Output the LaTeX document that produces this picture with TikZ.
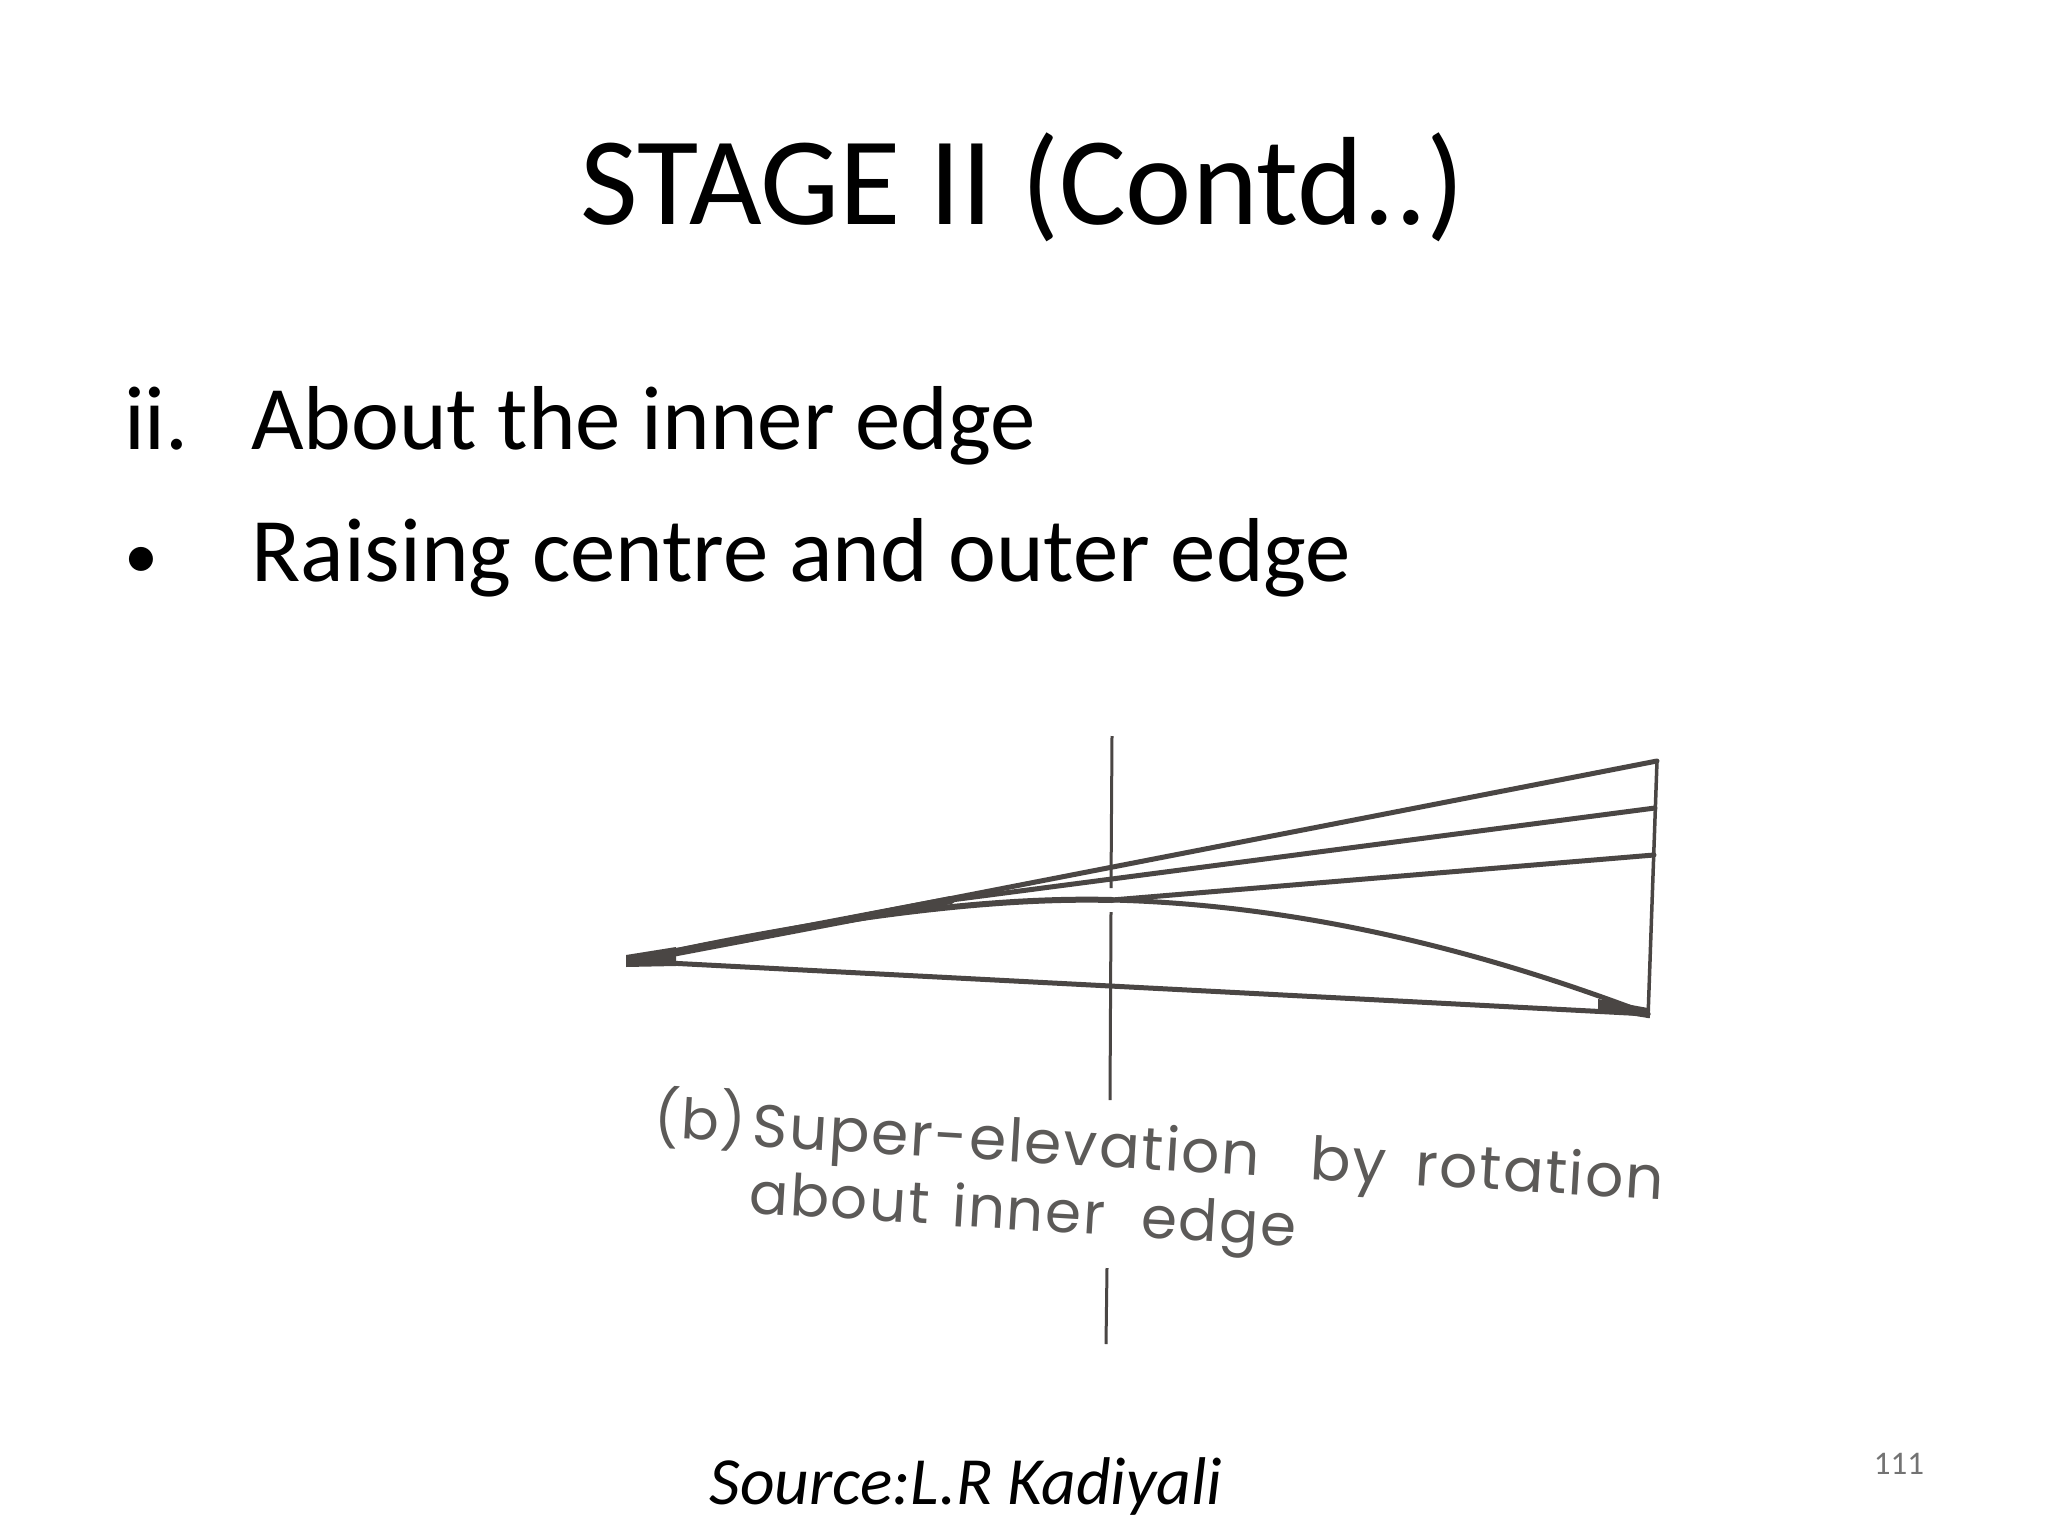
\documentclass[tikz,border=0pt]{standalone}
\usepackage{fontspec}
\setmainfont{Carlito}
\newfontfamily\scanfont[LetterSpace=3]{Poppins}
\definecolor{ink}{HTML}{4A4644}
\definecolor{scanink}{HTML}{5C5A58}
\tikzset{lineink/.style={draw=ink,line width=5pt,line cap=round,line join=round},
 thinink/.style={draw=ink,line width=3pt},
 scan/.style={text=scanink,font=\fontsize{60}{60}\selectfont\scanfont,inner sep=0pt,anchor=base west,rotate=-3.4},
 scantwo/.style={scan,font=\fontsize{58}{58}\selectfont\scanfont},
 bodytext/.style={font=\fontsize{90.8}{91}\selectfont,inner sep=0pt,anchor=base west}}
\begin{document}
\begin{tikzpicture}[x=1pt,y=-1pt]
\useasboundingbox (0,0) rectangle (2048,1536);
\fill[white] (0,0) rectangle (2048,1536);
\node[font=\fontsize{125.5}{126}\selectfont,inner sep=0pt] (title) at (1023,187) {STAGE II (Contd..)};
\node[bodytext] (l1a) at (124,449) {ii.};
\node[bodytext] (l1b) at (251,449) {About the inner edge};
\node[bodytext,font=\fontsize{68}{68}\selectfont] (l2a) at (124,578) {•};
\node[bodytext] (l2b) at (251,581) {Raising centre and outer edge};
\coordinate (apex) at (630,961);
\coordinate (c) at (1112,900);
\coordinate (m) at (951,900);
\coordinate (t1) at (1657,761);
\coordinate (t2) at (1655,808);
\coordinate (t3) at (1654,855);
\coordinate (b) at (1648,1014);
\draw[thinink] (1112,736) -- (1111,888);
\draw[thinink] (1111,912) -- (1110,1100);
\draw[thinink] (1107,1268) -- (1106,1344);
\draw[lineink] (apex) -- (t1);
\draw[lineink,line width=8pt] (apex) -- (m);
\draw[lineink] (m) -- (t2);
\draw[lineink] (c) -- (t3);
\draw[lineink,line width=6pt] (apex) .. controls (770,930) and (960,896) .. (c);
\draw[lineink] (c) .. controls (1300,905) and (1480,950) .. (b);
\draw[lineink] (apex) -- (b);
\draw[thinink,line width=3.5pt] (t1) -- (1648,1018);
\fill[ink] (626,955) -- (676,947) -- (676,966) -- (626,967) -- cycle;
\fill[ink] (1598,999) -- (1648,1008) -- (1648,1018) -- (1598,1010) -- cycle;
\node[scan,font=\fontsize{56}{56}\selectfont\scanfont] (capb) at (653,1137) {(b)};
\node[scan] (capsuper) at (751,1146) {Super-elevation};
\node[scan] (capby) at (1309,1179) {by};
\node[scan] (caprot) at (1414,1185) {rotation};
\node[scantwo] (capabout) at (748,1213) {about};
\node[scantwo] (capinner) at (951,1226) {inner};
\node[scantwo] (capedge) at (1140,1237) {edge};
\node[font=\itshape\fontsize{67.5}{67.5}\selectfont,inner sep=0pt] (src) at (966,1486) {Source:L.R Kadiyali};
\node[font=\fontsize{33}{33}\selectfont,text=black!55,inner sep=0pt] (num) at (1899,1464) {111};
\end{tikzpicture}
\end{document}
